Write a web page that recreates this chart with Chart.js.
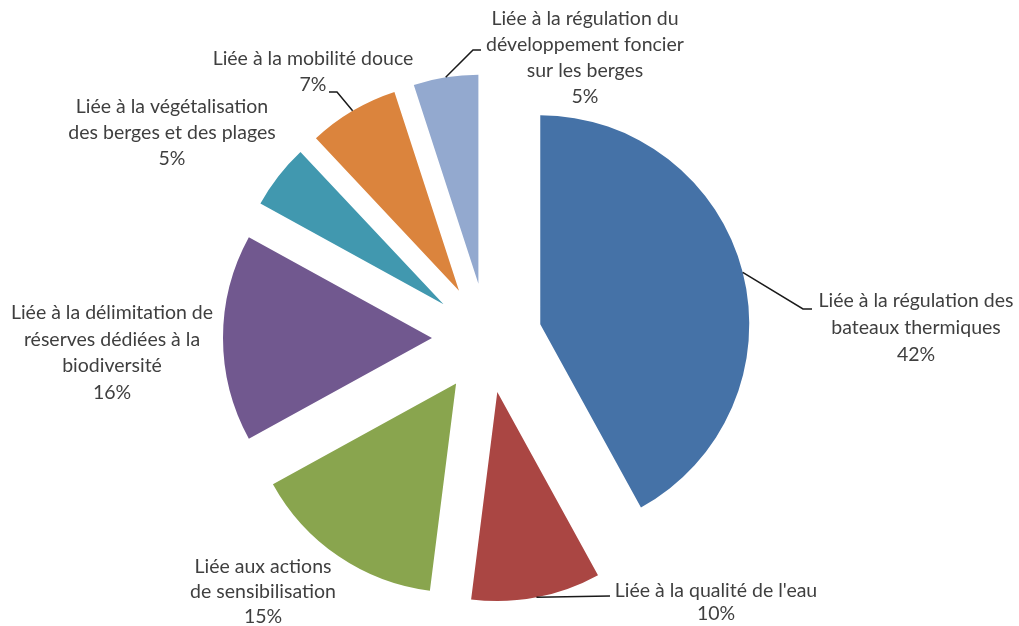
<!DOCTYPE html>
<html>
<head>
<meta charset="utf-8">
<script src="https://cdn.jsdelivr.net/npm/chart.js@4.4.1/dist/chart.umd.min.js"></script>
<style>
  html, body { margin: 0; background: #fff; }
  #wrap { width: 1019px; height: 626px; }
</style>
</head>
<body>
<div id="wrap"><canvas id="myChart"></canvas></div>
<script>
// categories (already split the way they are wrapped on the chart)
const categories = [
  ["Liée à la régulation des", "bateaux thermiques"],
  ["Liée à la qualité de l'eau"],
  ["Liée aux actions", "de sensibilisation"],
  ["Liée à la délimitation de", "réserves dédiées à la", "biodiversité"],
  ["Liée à la végétalisation", "des berges et des plages"],
  ["Liée à la mobilité douce"],
  ["Liée à la régulation du", "développement foncier", "sur les berges"],
];
const shares = [42, 10, 15, 16, 5, 7, 5];
const colors = ["#4572a7", "#aa4643", "#89a54e", "#71588f", "#4198af", "#db843d", "#93a9cf"];

// where Excel put each label: centre x, first line y, line height, leader line points
const labelPlacement = [
  { x: 916, y: 301, lh: 27, leader: [[803, 309], [812, 309]] },
  { x: 716, y: 591, lh: 23, leader: [[610, 596]] },
  { x: 263, y: 567, lh: 25 },
  { x: 112, y: 313, lh: 26.5 },
  { x: 172, y: 107, lh: 26 },
  { x: 313, y: 59, lh: 26, leader: [[337, 92], [329, 92]] },
  { x: 585, y: 19, lh: 26, leader: [[473, 50], [481, 50]] },
];

const EXPLODE = 55; // distance each slice is pulled out

// move every slice away from the centre by the same distance (keeps radii equal)
const explodePlugin = {
  id: "explode",
  afterDatasetsUpdate(chart) {
    chart.getDatasetMeta(0).data.forEach((arc) => {
      const mid = (arc.startAngle + arc.endAngle) / 2;
      arc.x += Math.cos(mid) * EXPLODE;
      arc.y += Math.sin(mid) * EXPLODE;
    });
  },
};

const labelPlugin = {
  id: "outerLabels",
  afterDatasetsDraw(chart) {
    const ctx = chart.ctx;
    const arcs = chart.getDatasetMeta(0).data;
    ctx.save();
    arcs.forEach((arc, i) => {
      const p = labelPlacement[i];
      if (p.leader) {
        const mid = (arc.startAngle + arc.endAngle) / 2;
        ctx.beginPath();
        ctx.moveTo(arc.x + Math.cos(mid) * arc.outerRadius, arc.y + Math.sin(mid) * arc.outerRadius);
        p.leader.forEach(([lx, ly]) => ctx.lineTo(lx, ly));
        ctx.strokeStyle = "#1a1a1a";
        ctx.lineWidth = 1.5;
        ctx.stroke();
      }
      const lines = categories[i].concat([shares[i] + "%"]);
      ctx.fillStyle = "#3f3f3f";
      ctx.font = "19.5px Lato";
      ctx.textAlign = "center";
      ctx.textBaseline = "middle";
      lines.forEach((t, k) => ctx.fillText(t, p.x, p.y + k * p.lh));
    });
    ctx.restore();
  },
};

new Chart(document.getElementById("myChart"), {
  type: "pie",
  data: {
    labels: categories,
    datasets: [
      {
        data: shares,
        backgroundColor: colors,
        borderWidth: 0,
        radius: 209,
      },
    ],
  },
  options: {
    responsive: true,
    maintainAspectRatio: false,
    animation: false,
    events: [],
    layout: { padding: { left: 0, right: 45, top: 50, bottom: 0 } },
    plugins: {
      legend: { display: false },
      tooltip: { enabled: false },
    },
  },
  plugins: [explodePlugin, labelPlugin],
});
</script>
</body>
</html>
